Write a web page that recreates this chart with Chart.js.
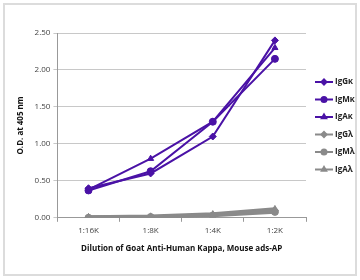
<!DOCTYPE html>
<html>
<head>
<meta charset="utf-8">
<script src="https://cdn.jsdelivr.net/npm/chart.js@4"></script>
<style>
  html, body { margin: 0; padding: 0; background: #fff; }
  #wrap { position: relative; width: 360px; height: 280px; }
  #frame { position: absolute; left: 3px; top: 3px; width: 350px; height: 269px; border: 2px solid #dcdcdc; }
  canvas { position: absolute; left: 0; top: 0; }
</style>
</head>
<body>
<div id="wrap">
  <div id="frame"></div>
  <canvas id="oneChart" width="360" height="280"></canvas>
</div>
<script>
// setup
const dilutions = ['1:16K', '1:8K', '1:4K', '1:2K'];
const seriesNames = ['IgGκ', 'IgMκ', 'IgAκ', 'IgGλ', 'IgMλ', 'IgAλ'];
const iggKappa = [0.40, 0.60, 1.10, 2.40];
const igmKappa = [0.37, 0.63, 1.30, 2.15];
const igaKappa = [0.38, 0.80, 1.30, 2.30];
const iggLambda = [0.01, 0.01, 0.04, 0.10];
const igmLambda = [0.00, 0.01, 0.03, 0.08];
const igaLambda = [0.01, 0.02, 0.05, 0.12];
const yTicks = [0, 0.5, 1.0, 1.5, 2.0, 2.5];

const purple = '#4a12a6';
const grey = '#8a8a8a';
const markers = ['rectRot', 'circle', 'triangle', 'rectRot', 'circle', 'triangle'];
const values = [iggKappa, igmKappa, igaKappa, iggLambda, igmLambda, igaLambda];

const datasets = values.map((v, i) => {
  const c = i < 3 ? purple : grey;
  return {
    label: seriesNames[i],
    data: v,
    borderColor: c,
    backgroundColor: c,
    borderWidth: i < 3 ? 2 : 3.5,
    pointStyle: markers[i],
    pointRadius: 3.5,
    pointBorderWidth: 1,
    tension: 0
  };
});

// legend drawn as line + marker like the original
const lineLegend = {
  id: 'lineLegend',
  afterDraw(chart) {
    const ctx = chart.ctx;
    const x0 = 315, y0 = 82, gap = 17.5;
    chart.data.datasets.forEach((ds, i) => {
      const y = y0 + i * gap;
      ctx.save();
      ctx.strokeStyle = ds.borderColor;
      ctx.lineWidth = 2;
      ctx.beginPath();
      ctx.moveTo(x0, y);
      ctx.lineTo(x0 + 18, y);
      ctx.stroke();
      ctx.fillStyle = ds.backgroundColor;
      Chart.helpers.drawPoint(ctx, { pointStyle: ds.pointStyle, radius: 2.5, borderWidth: 1 }, x0 + 9, y);
      ctx.fillStyle = '#222';
      ctx.font = 'bold 8px "Open Sans"';
      ctx.textBaseline = 'middle';
      ctx.fillText(ds.label, x0 + 20, y);
      ctx.restore();
    });
  }
};

const config = {
  type: 'line',
  data: { labels: dilutions, datasets },
  options: {
    responsive: false,
    animation: false,
    layout: { padding: { left: 12, right: 54, top: 33, bottom: 22 } },
    plugins: { legend: { display: false }, tooltip: { enabled: false } },
    scales: {
      x: {
        offset: true,
        grid: { offset: true, drawOnChartArea: false, tickLength: 4, color: '#999' },
        border: { color: '#999' },
        ticks: { color: '#444', font: { size: 8, family: '"Open Sans"' }, padding: 4 },
        title: { display: true, text: 'Dilution of Goat Anti-Human Kappa, Mouse ads-AP', color: '#111', font: { size: 8, weight: 'bold', family: '"Open Sans"' }, padding: { top: 5 } }
      },
      y: {
        min: 0,
        max: 2.5,
        afterBuildTicks: axis => { axis.ticks = yTicks.map(v => ({ value: v })); },
        grid: { color: '#c8c8c8', tickLength: 4 },
        border: { color: '#999' },
        ticks: { color: '#444', font: { size: 8, family: '"Open Sans"' }, callback: v => v.toFixed(2) },
        title: { display: true, text: 'O.D. at 405 nm', color: '#111', font: { size: 8, weight: 'bold', family: '"Open Sans"' }, padding: { bottom: 6 } }
      }
    }
  },
  plugins: [lineLegend]
};

const oneChart = new Chart(document.getElementById('oneChart'), config);
</script>
</body>
</html>
